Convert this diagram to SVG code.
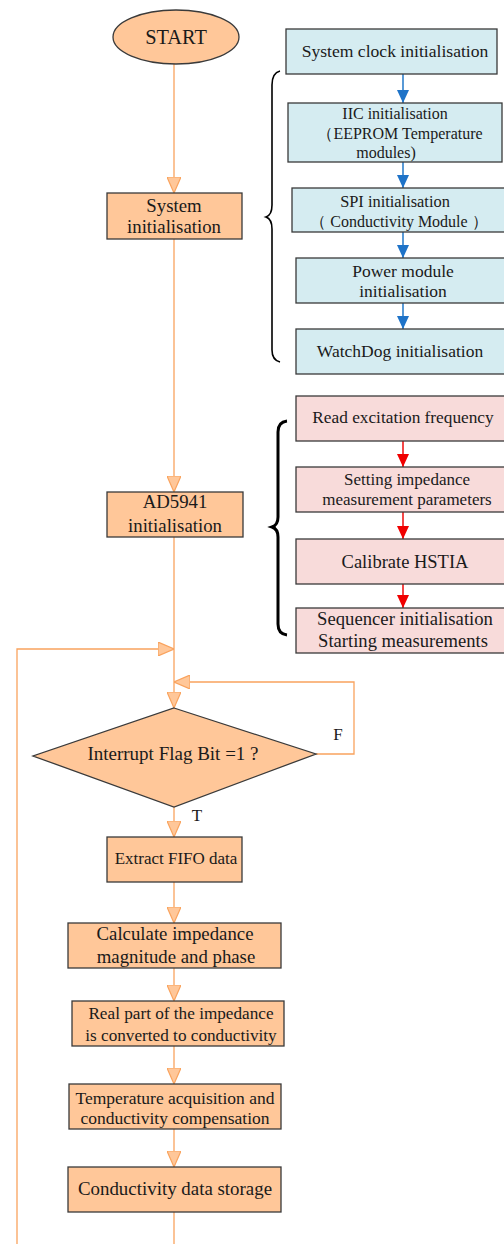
<svg xmlns="http://www.w3.org/2000/svg" width="504" height="1244" viewBox="0 0 504 1244">
<defs>
<style>
text{font-family:"Liberation Serif","Times New Roman",serif;fill:#1a1a1a;text-anchor:middle}
.o{fill:#FFC799;stroke:#3a3a3a;stroke-width:1.3}
.b{fill:#D5ECF1;stroke:#3a3a3a;stroke-width:1.3}
.p{fill:#F8DBDA;stroke:#3a3a3a;stroke-width:1.3}
.oc{fill:none;stroke:#F9A35E;stroke-width:1.3}
.bc{fill:none;stroke:#2F80CC;stroke-width:1.6}
.rc{fill:none;stroke:#F01818;stroke-width:1.6}
.ah{fill:#FFC799;stroke:#F9A35E;stroke-width:1.2}
</style>
<marker id="ao" viewBox="0 0 16 14" refX="16" refY="7" markerWidth="16" markerHeight="14" markerUnits="userSpaceOnUse" orient="auto"><path d="M0 0 L16 7 L0 14 Z" class="ah"/></marker>
<marker id="ab" viewBox="0 0 13 12" refX="13" refY="6" markerWidth="13" markerHeight="12" markerUnits="userSpaceOnUse" orient="auto"><path d="M0 0 L13 6 L0 12 Z" fill="#1E73C8"/></marker>
<marker id="ar" viewBox="0 0 13 12" refX="13" refY="6" markerWidth="13" markerHeight="12" markerUnits="userSpaceOnUse" orient="auto"><path d="M0 0 L13 6 L0 12 Z" fill="#F00000"/></marker>
</defs>
<rect width="504" height="1244" fill="#fff"/>

<g id="connectors">
<path class="oc" d="M174 64 V193" marker-end="url(#ao)"/>
<path class="oc" d="M174 239 V492" marker-end="url(#ao)"/>
<path class="oc" d="M174 537 V708" marker-end="url(#ao)"/>
<path class="oc" d="M17 1244 V649 H174" marker-end="url(#ao)"/>
<path class="oc" d="M316 754 H354 V682 H174" marker-end="url(#ao)"/>
<path class="oc" d="M174 807 V837" marker-end="url(#ao)"/>
<path class="oc" d="M174 882 V923" marker-end="url(#ao)"/>
<path class="oc" d="M174 968 V1001" marker-end="url(#ao)"/>
<path class="oc" d="M174 1046 V1084" marker-end="url(#ao)"/>
<path class="oc" d="M174 1129 V1167" marker-end="url(#ao)"/>
<path class="oc" d="M174 1212 V1244"/>
<path class="bc" d="M403 74 V103" marker-end="url(#ab)"/>
<path class="bc" d="M403 162 V188" marker-end="url(#ab)"/>
<path class="bc" d="M403 232 V258" marker-end="url(#ab)"/>
<path class="bc" d="M403 303 V329" marker-end="url(#ab)"/>
<path class="rc" d="M403 441 V467" marker-end="url(#ar)"/>
<path class="rc" d="M403 512 V539" marker-end="url(#ar)"/>
<path class="rc" d="M403 584 V608" marker-end="url(#ar)"/>
<text x="338" y="740" style="font-size:17px">F</text>
<text x="197" y="821" style="font-size:17px">T</text>
</g>

<g id="brace1"><path d="M280 71 Q272 73 272 85 L272 205 Q272 215 266 217 Q272 219 272 229 L272 350 Q272 360 280 362" fill="none" stroke="#000" stroke-width="1.6"/></g>
<g id="brace2"><path d="M287 421 Q278 422 278 432 L278 517 Q278 525 272 527 Q278 529 278 537 L278 624 Q278 634 287 635" fill="none" stroke="#000" stroke-width="3"/></g>

<g id="start"><ellipse class="o" cx="176" cy="37" rx="63" ry="27"/><text x="176" y="44" style="font-size:20.4px">START</text></g>
<g id="sysinit"><rect class="o" x="107" y="193" width="135" height="46"/><text x="174" y="212" style="font-size:18.8px">System</text><text x="174" y="233" style="font-size:18.8px">initialisation</text></g>
<g id="ad5941"><rect class="o" x="107" y="492" width="136" height="45"/><text x="175" y="508" style="font-size:18.8px">AD5941</text><text x="175" y="532" style="font-size:18.8px">initialisation</text></g>

<g id="clk"><rect class="b" x="286" y="29" width="211" height="45"/><text x="395" y="57" style="font-size:17.6px">System clock  initialisation</text></g>
<g id="iic"><rect class="b" x="288" y="103" width="214" height="59"/><text x="395" y="119" style="font-size:16px">IIC initialisation</text><text x="400" y="139" style="font-size:16px">（EEPROM  Temperature</text><text x="386" y="158" style="font-size:16px">modules)</text></g>
<g id="spi"><rect class="b" x="292" y="188" width="214" height="44"/><text x="395" y="207" style="font-size:16.4px">SPI initialisation</text><text x="399" y="227" style="font-size:16px">（ Conductivity Module ）</text></g>
<g id="power"><rect class="b" x="296" y="258" width="210" height="45"/><text x="403" y="277" style="font-size:17.5px">Power module</text><text x="403" y="297" style="font-size:17.5px">initialisation</text></g>
<g id="wdog"><rect class="b" x="296" y="329" width="210" height="45"/><text x="400" y="357" style="font-size:17.5px">WatchDog initialisation</text></g>

<g id="freq"><rect class="p" x="296" y="396" width="210" height="45"/><text x="403" y="423" style="font-size:17.3px">Read excitation frequency</text></g>
<g id="params"><rect class="p" x="296" y="467" width="210" height="45"/><text x="407" y="485" style="font-size:17px">Setting impedance</text><text x="407" y="505" style="font-size:17px">measurement parameters</text></g>
<g id="hstia"><rect class="p" x="296" y="539" width="210" height="45"/><text x="405" y="568" style="font-size:18.5px">Calibrate HSTIA</text></g>
<g id="seq"><rect class="p" x="296" y="608" width="210" height="45"/><text x="405" y="625" style="font-size:18.7px">Sequencer initialisation</text><text x="403" y="647" style="font-size:18.6px">Starting measurements</text></g>

<g id="decision"><path class="o" d="M174 708 L316 754 L174 807 L33 756 Z"/><text x="173" y="760" style="font-size:19px">Interrupt Flag Bit =1 ?</text></g>
<g id="fifo"><rect class="o" x="107" y="837" width="135" height="45"/><text x="176" y="864" style="font-size:17px">Extract FIFO data</text></g>
<g id="calc"><rect class="o" x="68" y="923" width="213" height="45"/><text x="175" y="940" style="font-size:18.8px">Calculate impedance</text><text x="176" y="963" style="font-size:18.8px">magnitude and phase</text></g>
<g id="real"><rect class="o" x="72" y="1001" width="212" height="45"/><text x="181" y="1019" style="font-size:17.2px">Real part of the impedance</text><text x="181" y="1041" style="font-size:17.2px">is converted to conductivity</text></g>
<g id="temp"><rect class="o" x="69" y="1084" width="212" height="45"/><text x="175" y="1104" style="font-size:17.5px">Temperature acquisition and</text><text x="175" y="1124" style="font-size:17.5px">conductivity compensation</text></g>
<g id="store"><rect class="o" x="68" y="1167" width="213" height="45"/><text x="175" y="1195" style="font-size:18.9px">Conductivity data storage</text></g>
</svg>
